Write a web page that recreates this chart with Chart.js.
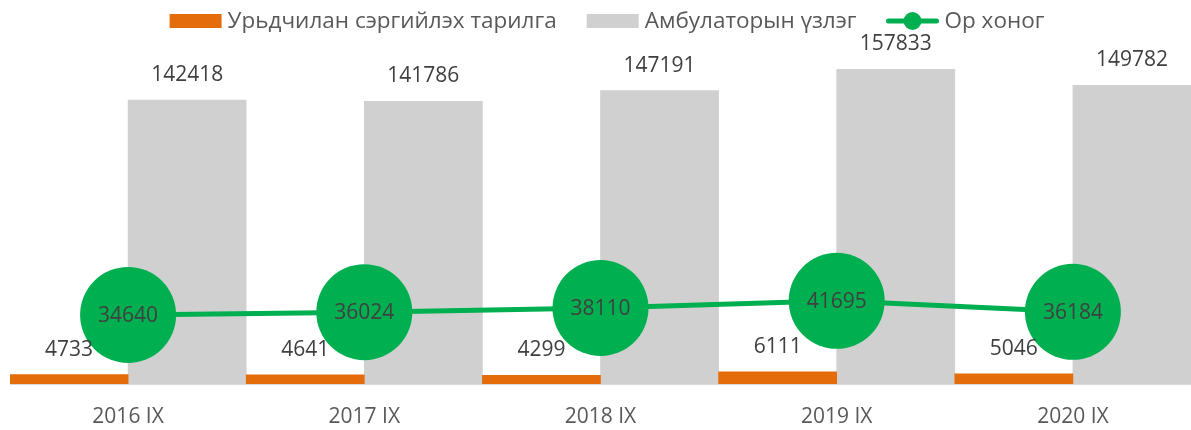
<!DOCTYPE html>
<html>
<head>
<meta charset="utf-8">
<script src="https://cdn.jsdelivr.net/npm/chart.js@4/dist/chart.umd.min.js"></script>
<style>
  html, body { margin: 0; padding: 0; background: #fff; }
  #wrap { width: 1191px; height: 430px; position: relative; }
</style>
</head>
<body>
<div id="wrap"><canvas id="chart"></canvas></div>
<script>
// chart data
const categories = ['2016 IX', '2017 IX', '2018 IX', '2019 IX', '2020 IX'];
const seriesNames = ['Урьдчилан сэргийлэх тарилга', 'Амбулаторын үзлэг', 'Ор хоног'];
const vaccination = [4733, 4641, 4299, 6111, 5046];
const outpatient = [142418, 141786, 147191, 157833, 149782];
const bedDays = [34640, 36024, 38110, 41695, 36184];

const ORANGE = '#e46c0a';
const GRAY = '#d0d0d0';
const GREEN = '#00b050';
const LABEL = '#404040';
const FONT = '"Open Sans", sans-serif';

Chart.defaults.font.family = FONT;

// value labels on bars and inside the circles
const valueLabels = {
    id: 'valueLabels',
    afterDatasetsDraw: function(chart) {
        const ctx = chart.ctx;
        ctx.save();
        ctx.font = '21px ' + FONT;
        ctx.fillStyle = LABEL;
        ctx.textAlign = 'center';
        ctx.textBaseline = 'middle';
        chart.data.datasets.forEach(function(ds, i) {
            const meta = chart.getDatasetMeta(i);
            meta.data.forEach(function(el, j) {
                const txt = String(ds.data[j]);
                if (ds.type === 'line') {
                    ctx.fillText(txt, el.x, el.y + 1);
                } else {
                    ctx.fillText(txt, el.x, el.y - 25);
                }
            });
        });
        ctx.restore();
    }
};

// legend drawn at the top, centred like the original
const topLegend = {
    id: 'topLegend',
    afterDraw: function(chart) {
        const ctx = chart.ctx;
        const y = 21;
        const boxW = 52, gapText = 6, gapItem = 30;
        ctx.save();
        ctx.font = '22.5px ' + FONT;
        const widths = seriesNames.map(function(n) { return ctx.measureText(n).width; });
        let total = 0;
        widths.forEach(function(w) { total += boxW + gapText + w; });
        total += gapItem * 2;
        let x = 607 - total / 2;

        seriesNames.forEach(function(name, i) {
            if (i === 0 || i === 1) {
                ctx.fillStyle = i === 0 ? ORANGE : GRAY;
                ctx.fillRect(x, y - 7, boxW, 14);
            } else {
                ctx.strokeStyle = GREEN;
                ctx.lineWidth = 5;
                ctx.lineCap = 'round';
                ctx.beginPath();
                ctx.moveTo(x + 2, y);
                ctx.lineTo(x + boxW - 2, y);
                ctx.stroke();
                ctx.fillStyle = GREEN;
                ctx.beginPath();
                ctx.arc(x + boxW / 2, y, 9, 0, Math.PI * 2);
                ctx.fill();
            }
            ctx.fillStyle = '#595959';
            ctx.textAlign = 'left';
            ctx.textBaseline = 'middle';
            ctx.fillText(name, x + boxW + gapText, y + 1);
            x += boxW + gapText + widths[i] + gapItem;
        });
        ctx.restore();
    }
};

new Chart(document.getElementById('chart'), {
    data: {
        labels: categories,
        datasets: [
            {
                type: 'line',
                label: seriesNames[2],
                data: bedDays,
                borderColor: GREEN,
                backgroundColor: GREEN,
                borderWidth: 5,
                pointRadius: 48,
                pointHoverRadius: 48,
                pointBorderWidth: 0,
                pointBackgroundColor: GREEN,
                tension: 0,
                order: 0
            },
            {
                type: 'bar',
                label: seriesNames[0],
                data: vaccination,
                backgroundColor: ORANGE,
                categoryPercentage: 1,
                barPercentage: 1,
                order: 1
            },
            {
                type: 'bar',
                label: seriesNames[1],
                data: outpatient,
                backgroundColor: GRAY,
                categoryPercentage: 1,
                barPercentage: 1,
                order: 1
            }
        ]
    },
    options: {
        responsive: true,
        maintainAspectRatio: false,
        animation: false,
        layout: {
            autoPadding: false,
            padding: { top: 65, left: 10, right: 0, bottom: 4 }
        },
        plugins: {
            legend: { display: false },
            tooltip: { enabled: false }
        },
        scales: {
            x: {
                grid: { display: false },
                border: { display: true, color: '#d9d9d9', width: 1 },
                ticks: {
                    color: '#595959',
                    font: { size: 21 },
                    padding: 12
                },
                afterFit: function(scale) {
                    scale.height = 42;
                }
            },
            y: {
                display: false,
                min: 0,
                max: 160000
            }
        }
    },
    plugins: [valueLabels, topLegend]
});
</script>
</body>
</html>
